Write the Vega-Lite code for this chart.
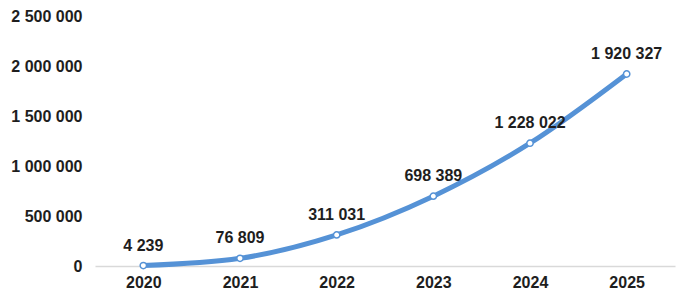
{
  "$schema": "https://vega.github.io/schema/vega-lite/v6.json",
  "width": 580,
  "height": 250,
  "autosize": {"type": "none"},
  "padding": {"left": 95, "top": 16, "right": 14, "bottom": 28},
  "background": "white",
  "config": {
    "view": {"stroke": null},
    "locale": {"number": {"decimal": ",", "thousands": " ", "grouping": [3], "currency": ["", ""]}},
    "font": "Liberation Sans"
  },
  "data": {
    "values": [
      {"year": "2020", "value": 4239},
      {"year": "2021", "value": 76809},
      {"year": "2022", "value": 311031},
      {"year": "2023", "value": 698389},
      {"year": "2024", "value": 1228022},
      {"year": "2025", "value": 1920327}
    ]
  },
  "encoding": {
    "x": {
      "field": "year",
      "type": "ordinal",
      "scale": {"type": "point", "padding": 0.5},
      "axis": {
        "title": null,
        "labelAngle": 0,
        "ticks": false,
        "domainColor": "#d9d9d9",
        "domainWidth": 1.5,
        "labelFont": "Liberation Sans",
        "labelFontWeight": "bold",
        "labelFontSize": 16,
        "labelColor": "#1e1e1e",
        "labelPadding": 8,
        "grid": false
      }
    },
    "y": {
      "field": "value",
      "type": "quantitative",
      "scale": {"domain": [0, 2500000], "nice": false},
      "axis": {
        "title": null,
        "values": [0, 500000, 1000000, 1500000, 2000000, 2500000],
        "format": ",d",
        "grid": false,
        "domain": false,
        "ticks": false,
        "labelFont": "Liberation Sans",
        "labelFontWeight": "bold",
        "labelFontSize": 16,
        "labelColor": "#1e1e1e",
        "labelPadding": 13
      }
    }
  },
  "layer": [
    {
      "mark": {"type": "line", "color": "#5592d6", "strokeWidth": 5, "interpolate": "monotone"}
    },
    {
      "mark": {"type": "point", "filled": true, "fill": "white", "stroke": "#5592d6", "strokeWidth": 1.5, "size": 40, "opacity": 1}
    },
    {
      "mark": {"type": "text", "dy": -20, "font": "Liberation Sans", "fontWeight": "bold", "fontSize": 16, "color": "#1e1e1e"},
      "encoding": {"text": {"field": "value", "type": "quantitative", "format": ",d"}}
    }
  ]
}
